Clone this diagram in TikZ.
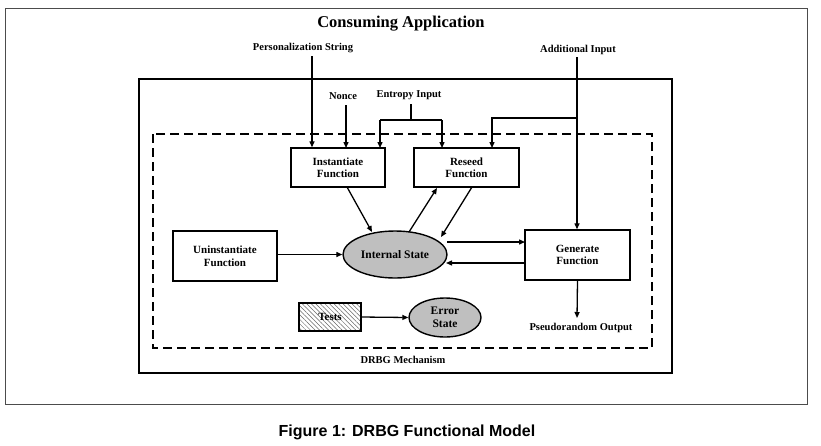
\documentclass[tikz,border=0pt]{standalone}
\usepackage{fontspec}
\setmainfont{Liberation Serif}
\newfontfamily\capfont{Liberation Sans}
\usetikzlibrary{arrows.meta,shapes.geometric,patterns.meta}
\begin{document}
\begin{tikzpicture}[x=1pt,y=-1pt,
  lbl/.style={font=\bfseries\fontsize{10.5}{12}\selectfont, align=center, inner sep=0pt},
  fbox/.style={draw, line width=1.4pt, font=\bfseries\fontsize{11}{12.5}\selectfont, align=center},
  ell/.style={ellipse, draw, line width=1.4pt, fill=black!25, font=\bfseries\fontsize{11.5}{12.5}\selectfont, align=center, inner sep=0pt},
  arr/.style={line width=1.3pt, -{Triangle[length=6pt,width=5pt]}},
  ln/.style={line width=1.3pt}]
\useasboundingbox (0,0) rectangle (821,445);
% frames
\draw[black!70, line width=0.8pt] (5,8) rectangle (807,404);
\draw[line width=2.4pt] (139,79) rectangle (672,373);
\draw[line width=1.4pt, dash pattern=on 9pt off 5pt] (153,134) rectangle (652,348);
% titles
\node[font=\bfseries\fontsize{16.5}{18}\selectfont] (title) at (401,24) {Consuming Application};
\node[lbl] (pers) at (303,48) {Personalization String};
\node[lbl] (addin) at (578,50) {Additional Input};
\node[lbl] (nonce) at (343,96) {Nonce};
\node[lbl] (entropy) at (409,95) {Entropy Input};
\node[lbl] (drbg) at (403,360) {DRBG Mechanism};
\node[lbl] (pout) at (581,328) {Pseudorandom Output};
\node[font=\capfont\bfseries\fontsize{16}{18}\selectfont] (cap) at (407,432) {Figure 1: DRBG Functional Model};
% boxes
\node[fbox, minimum width=94pt, minimum height=39pt] (inst) at (338,167.5) {Instantiate\\Function};
\node[fbox, minimum width=105pt, minimum height=39pt] (reseed) at (466.5,167.5) {Reseed\\Function};
\node[fbox, minimum width=104pt, minimum height=50pt] (unin) at (225,256) {Uninstantiate\\Function};
\node[fbox, minimum width=105pt, minimum height=50pt] (gen) at (577.5,255) {Generate\\Function};
\node[draw, line width=1.4pt, minimum width=62pt, minimum height=28pt, pattern={Lines[angle=-45,distance=3.2pt,line width=0.5pt]}, pattern color=black!60, font=\bfseries\fontsize{11}{12}\selectfont] (tests) at (330,317) {Tests};
\node[ell, minimum width=104pt, minimum height=47pt] (state) at (395,254.5) {Internal State};
\node[ell, minimum width=72pt, minimum height=39pt] (err) at (445,317.5) {Error\\State};
% coordinates
\coordinate (p0) at (312,56);
\coordinate (e0) at (411,104);
\coordinate (e1) at (411,120);
\coordinate (a0) at (577,57);
\coordinate (a1) at (577,118);
% inputs
\draw[arr] (p0) -- (p0 |- inst.north);
\draw[arr] (346,105) -- (346,148);
\draw[ln] (e0) -- (e1);
\draw[ln] (380,120) -- (442,120);
\draw[arr] (380,120) -- (380,148);
\draw[arr] (442,120) -- (442,148);
\draw[arr] (a0) -- (a0 |- gen.north);
\draw[arr] (a1) -- (492,118) -- (492,148);
% internal arrows
\draw[arr] (347,187) -- (372,232);
\draw[arr] (409,232) -- (437,188);
\draw[arr] (472,187) -- (441,237);
\draw[arr] (unin.east |- state.west) -- (state.west);
\draw[arr] (447,242) -- (525,242);
\draw[arr] (525,263) -- (446,263);
\draw[arr] (tests.east) -- (err.west);
\draw[arr] (gen.south) -- (577,318);
\end{tikzpicture}
\end{document}
